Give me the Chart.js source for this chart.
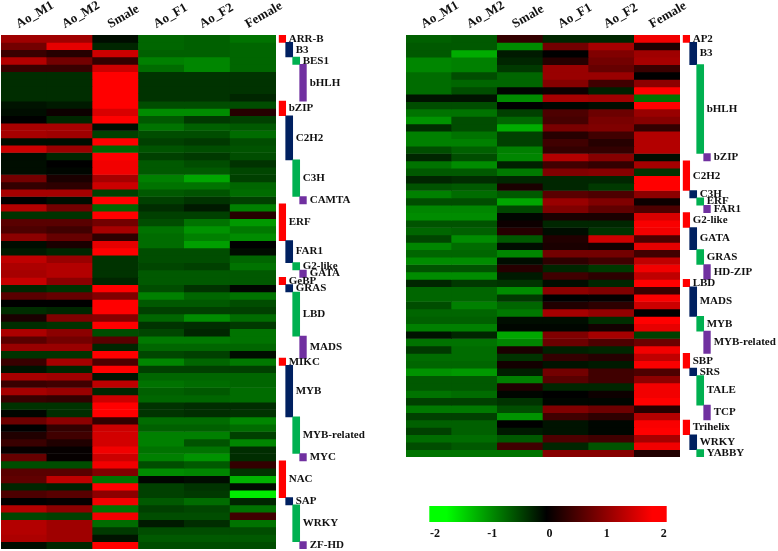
<!DOCTYPE html>
<html>
<head>
<meta charset="utf-8">
<title>Heatmaps</title>
<script src="https://cdn.jsdelivr.net/npm/chart.js@4/dist/chart.umd.min.js"></script>
<style>
    html, body { margin: 0; padding: 0; background: #fff; }
    body { position: relative; width: 778px; height: 551px; overflow: hidden; }
    canvas { position: absolute; }
</style>
</head>
<body>
<canvas id="heatLeft" style="left:1px;top:0"></canvas>
<canvas id="famLeft" style="left:278px;top:0"></canvas>
<canvas id="heatRight" style="left:406px;top:0"></canvas>
<canvas id="famRight" style="left:682px;top:0"></canvas>
<canvas id="colorBar" style="left:420px;top:500px"></canvas>
<script>
// column names
var samples = ['Ao_M1', 'Ao_M2', 'Smale', 'Ao_F1', 'Ao_F2', 'Female'];

// left heatmap, one line per row, same order as samples
var leftRows = [
    [1.25, 1.25, -0.1, -0.8, -0.75, -0.9],
    [0.9, 1.8, -0.3, -0.8, -0.75, -0.8],
    [0.45, 0.3, 1.6, -0.75, -0.75, -0.8],
    [1.4, 0.9, 0.4, -1.0, -1.05, -0.8],
    [0.45, 0.45, 1.6, -0.85, -1.05, -0.8],
    [-0.35, -0.35, 2, -0.4, -0.4, -0.4],
    [-0.35, -0.35, 2, -0.4, -0.4, -0.4],
    [-0.35, -0.35, 2, -0.4, -0.4, -0.4],
    [-0.35, -0.35, 2, -0.4, -0.4, -0.3],
    [-0.15, -0.2, 2, -0.6, -0.6, -0.6],
    [-0.1, 0.1, 1.7, -1.1, -1.1, 0.3],
    [0, -0.3, 2, -0.7, -0.45, -0.5],
    [1.3, 1.3, -0.1, -0.9, -0.75, -0.7],
    [1.3, 1.25, -0.5, -0.6, -0.6, -0.85],
    [-0.1, -0.1, 2, -0.5, -0.45, -0.6],
    [1.6, 1.2, -0.8, -0.65, -0.6, -0.65],
    [-0.1, -0.3, 2, -0.5, -0.45, -0.6],
    [-0.1, 0, 1.9, -0.7, -0.6, -0.4],
    [-0.1, -0.05, 1.9, -0.7, -0.7, -0.55],
    [0.9, 0.2, 1.3, -1.0, -1.3, -0.5],
    [0.4, 0.35, 1.6, -0.9, -0.9, -0.8],
    [1.3, 1.3, -0.5, -0.7, -0.65, -0.85],
    [0, -0.1, 2, -0.5, -0.4, -0.5],
    [1.4, 0.9, -0.8, -0.35, -0.2, -1],
    [-0.4, -0.4, 2, -0.5, -0.5, 0.3],
    [0.7, 0.7, 0.9, -0.6, -0.9, -1.2],
    [0.6, 0.5, 1.3, -0.9, -1.15, -0.95],
    [1.1, 0.8, 0.35, -0.85, -1.0, -1.1],
    [-0.1, 0.2, 1.8, -0.85, -1.25, 0],
    [-0.2, -0.3, 2, -0.6, -0.6, -0.1],
    [1.5, 1.2, -0.4, -0.6, -0.6, -0.8],
    [1.35, 1.4, -0.4, -0.55, -0.5, -0.9],
    [1.3, 1.4, -0.4, -0.7, -0.7, -0.7],
    [1.55, 1.1, -0.3, -0.7, -0.7, -0.7],
    [-0.3, -0.4, 2, -0.6, -0.4, -0.05],
    [0.7, 0.8, 1.0, -1.0, -0.8, -0.9],
    [0, 0, 2, -0.7, -0.7, -0.6],
    [-0.35, -0.3, 2, -0.5, -0.5, -0.5],
    [0.2, 1.0, 1.05, -0.8, -1.1, -0.85],
    [-0.35, -0.4, 2, -0.4, -0.35, -0.45],
    [1.35, 1.1, -0.6, -0.55, -0.3, -0.9],
    [0.7, 0.9, 0.7, -0.95, -0.95, -0.9],
    [1.2, 1.2, -0.3, -0.8, -0.8, -0.8],
    [-0.4, -0.4, 2, -0.55, -0.5, -0.1],
    [0.45, 1.3, 0.6, -1.05, -0.8, -0.95],
    [-0.15, -0.3, 2, -0.5, -0.5, -0.5],
    [1.3, 1.25, -0.15, -0.8, -0.8, -0.8],
    [0.45, 0.5, 1.5, -0.9, -0.85, -0.8],
    [1.3, 1.2, -0.3, -0.75, -0.7, -0.85],
    [0.45, 0.4, 1.6, -0.8, -0.8, -0.85],
    [-0.4, -0.4, 2, -0.4, -0.35, -0.35],
    [-0.05, -0.35, 2, -0.4, -0.35, -0.4],
    [0.85, 1.1, 0.4, -0.85, -0.85, -1.05],
    [0, 0.4, 1.6, -0.75, -0.75, -0.85],
    [0.25, 0.5, 1.65, -1.0, -1.0, -0.5],
    [0.45, 0.25, 1.65, -1.0, -0.65, -1.05],
    [0.05, 0.05, 1.9, -0.9, -0.9, -0.35],
    [0.8, 0.05, 1.6, -1.0, -1.15, -0.35],
    [-0.6, -0.6, 1.9, -0.6, -0.7, 0.4],
    [0.7, 0.7, 1.0, -1.1, -1.05, -0.4],
    [0.75, 1.5, -0.9, -0.05, -0.1, -1.4],
    [-0.3, -0.25, 2, -0.5, -0.4, -0.1],
    [0.6, 0.7, 1.1, -0.5, -0.45, -1.85],
    [0, 0.05, 1.9, -0.7, -0.85, -0.3],
    [1.4, 1.1, -0.9, -0.5, -0.55, -0.9],
    [-0.55, -0.5, 1.9, -0.6, -0.6, 0.5],
    [1.4, 1.25, -0.85, -0.2, -0.35, -0.9],
    [1.4, 1.25, -0.45, -0.6, -0.6, -0.6],
    [1.35, 1.25, -0.15, -0.7, -0.7, -0.7],
    [-0.1, -0.3, 2, -0.6, -0.6, -0.6]
];

// right heatmap
var rightRows = [
    [-0.75, -0.7, 0.4, -0.3, -0.3, 1.9],
    [-0.7, -0.7, -1.1, 0.9, 1.3, 0.25],
    [-0.7, -1.35, -0.2, 0, 1.0, 1.25],
    [-1.05, -1.0, -0.3, 0.3, 0.9, 1.3],
    [-1.05, -1.0, -0.45, 1.2, 0.8, 0.45],
    [-0.85, -0.6, -0.8, 1.2, 1.2, 0],
    [-0.85, -0.8, -0.8, 1.05, 0.5, 1.1],
    [-0.85, -0.6, -0.05, 0.1, -0.25, 2],
    [-0.15, -0.15, -1.1, 1.3, 1.25, -0.9],
    [-0.6, -0.6, 0, -0.05, -0.1, 2],
    [-0.9, -0.9, -0.5, 0.6, 0.85, 1.2],
    [-1.15, -0.6, -0.8, 0.55, 0.95, 1.05],
    [-0.35, -0.6, -1.35, 0.95, 1.0, 0.4],
    [-1.0, -0.9, -0.5, 0.3, 0.5, 1.4],
    [-1.0, -1.0, -0.5, 0.5, 0.3, 1.4],
    [-0.6, -0.75, -1.0, 0.4, 0.4, 1.4],
    [-0.3, -0.6, -1.05, 1.4, 1.05, -0.1],
    [-0.9, -1.1, -0.25, 0.5, 0.4, 1.3],
    [-0.7, -0.7, -0.95, 1.0, 1.05, -0.4],
    [-0.3, -0.35, -0.3, -0.3, -0.3, 2],
    [-0.65, -0.7, 0.2, -0.3, -0.45, 2],
    [-1.0, -0.85, -0.7, 0.7, 0.6, 1.1],
    [-0.6, -0.6, -1.3, 1.2, 1.0, 0.1],
    [-1.05, -1.05, -0.55, 1.0, 0.75, 0.6],
    [-1.1, -1.1, -0.05, 0.2, 0.2, 1.7],
    [-0.65, -0.65, 0.1, -0.3, -0.3, 1.95],
    [-0.8, -0.75, 0.3, -0.1, -0.4, 1.9],
    [-0.55, -1.1, -0.7, 0.25, 1.6, 0.6],
    [-1.05, -0.85, -0.1, 0.2, 0.15, 1.8],
    [-0.8, -0.8, -1.05, 0.9, 0.9, 0.5],
    [-1.1, -1.1, -0.1, 0.35, 0.5, 1.5],
    [-0.65, -0.65, 0.3, -0.3, -0.45, 1.9],
    [-1.1, -1.1, -0.2, 0.5, 0.35, 1.5],
    [-0.3, -0.45, -0.4, -0.1, -0.3, 2],
    [-0.8, -0.8, -1.1, 1.1, 1.0, 0.45],
    [-0.8, -0.8, -0.45, 0, 0.05, 1.95],
    [-0.6, -1.0, -0.8, 0.25, 0.35, 1.6],
    [-0.8, -0.8, -0.95, 1.3, 1.15, 0],
    [-0.75, -0.75, -0.1, -0.1, -0.35, 2],
    [-1.0, -1.0, -0.05, -0.05, 0.15, 1.8],
    [-0.15, -0.3, -1.3, 1.0, 1.3, -0.5],
    [-0.9, -0.9, -1.05, 0.85, 0.6, 0.85],
    [-0.45, -0.85, 0.2, -0.25, -0.3, 1.9],
    [-0.85, -0.85, -0.4, 0.4, 0.3, 1.5],
    [-0.8, -0.8, 0.15, -0.15, -0.2, 1.95],
    [-1.15, -1.2, -0.25, 0.9, 0.5, 0.6],
    [-0.7, -0.7, -1.0, 0.7, 0.5, 1.1],
    [-0.7, -0.7, 0.25, -0.3, -0.3, 1.9],
    [-0.9, -0.85, -0.05, 0, 0.1, 1.9],
    [-0.5, -0.5, -0.4, -0.05, -0.05, 2],
    [-0.95, -0.95, -0.6, 1.0, 0.85, 0.3],
    [-0.5, -0.5, -1.15, 0.5, 0.35, 1.4],
    [-0.75, -0.75, 0, -0.15, -0.05, 1.95],
    [-0.5, -0.75, -0.2, -0.15, -0.05, 2],
    [-0.85, -0.85, -0.7, 0.6, 0.5, 1.3],
    [-0.6, -0.7, 0.5, -0.3, -0.65, 1.9],
    [-0.9, -0.9, -0.9, 1.05, 1.05, 0.25]
];

// gene families beside each heatmap and how many rows each one covers
var leftFamilies = ['ARR-B', 'B3', 'BES1', 'bHLH', 'bZIP', 'C2H2', 'C3H', 'CAMTA', 'ERF', 'FAR1', 'G2-like', 'GATA', 'GeBP', 'GRAS', 'LBD', 'MADS', 'MIKC', 'MYB', 'MYB-related', 'MYC', 'NAC', 'SAP', 'WRKY', 'ZF-HD'];
var leftFamilySizes = [1, 2, 1, 5, 2, 6, 5, 1, 5, 3, 1, 1, 1, 1, 6, 3, 1, 7, 5, 1, 5, 1, 5, 1];
var rightFamilies = ['AP2', 'B3', 'bHLH', 'bZIP', 'C2H2', 'C3H', 'ERF', 'FAR1', 'G2-like', 'GATA', 'GRAS', 'HD-ZIP', 'LBD', 'MADS', 'MYB', 'MYB-related', 'SBP', 'SRS', 'TALE', 'TCP', 'Trihelix', 'WRKY', 'YABBY'];
var rightFamilySizes = [1, 3, 12, 1, 4, 1, 1, 1, 2, 3, 2, 2, 1, 4, 2, 3, 2, 1, 4, 2, 2, 2, 1];

// the strip steps through these four lanes and colours
var lanes = ['a', 'b', 'c', 'd'];
var laneColors = ['#ff0000', '#002060', '#00b050', '#7030a0'];

// colour bar
var colorTicks = [-2, -1, 0, 1, 2];
var colorBarRange = [-2.1, 2.05];

var SERIF = "'Liberation Serif', 'Times New Roman', serif";

//value to green-black-red
function heatColor(v) {
    var c = Math.round(Math.min(Math.abs(v) / 2, 1) * 255);
    return v < 0 ? 'rgb(0,' + c + ',0)' : 'rgb(' + c + ',0,0)';
}

//one floating bar per cell, one dataset per row
function drawHeatmap(id, rows, width, height) {
    var canvas = document.getElementById(id);
    canvas.width = width + 16;
    canvas.height = height;
    var datasets = rows.map(function (row, r) {
        return {
            data: row.map(function () { return [r, r + 1]; }),
            backgroundColor: row.map(heatColor),
            borderWidth: 0,
            barPercentage: 1,
            categoryPercentage: 1
        };
    });
    return new Chart(canvas, {
        type: 'bar',
        data: { labels: samples, datasets: datasets },
        options: {
            responsive: false,
            animation: false,
            events: [],
            layout: { padding: { right: 16 } },
            plugins: { legend: { display: false }, tooltip: { enabled: false } },
            scales: {
                x: {
                    position: 'top',
                    stacked: true,
                    grid: { display: false, drawTicks: false },
                    border: { display: false },
                    afterFit: function (scale) {
                        scale.height = 35;
                        scale.paddingLeft = 0;
                        scale.paddingRight = 0;
                    },
                    ticks: {
                        autoSkip: false,
                        minRotation: 30,
                        maxRotation: 30,
                        padding: 3,
                        labelOffset: 1,
                        color: '#111',
                        font: { family: SERIF, size: 13, weight: 'bold' }
                    }
                },
                y: { display: false, reverse: true, min: 0, max: rows.length }
            }
        }
    });
}

//family strip plus its names
function drawFamilies(id, names, sizes, rowCount, width, height, padLeft) {
    var canvas = document.getElementById(id);
    canvas.width = width;
    canvas.height = height;
    var start = 0;
    var spans = sizes.map(function (size, i) {
        var span = { x: lanes[i % 4], y: [start, start + size] };
        start += size;
        return span;
    });
    var nameLabels = {
        id: 'nameLabels',
        afterDatasetsDraw: function (chart) {
            var ctx = chart.ctx;
            ctx.save();
            ctx.font = 'bold 11px ' + SERIF;
            ctx.fillStyle = '#111';
            ctx.textBaseline = 'middle';
            spans.forEach(function (span, i) {
                var x = chart.scales.x.getPixelForValue(lanes.indexOf(span.x)) + 6.5;
                var y = chart.scales.y.getPixelForValue((span.y[0] + span.y[1]) / 2);
                ctx.fillText(names[i], x, y);
            });
            ctx.restore();
        }
    };
    return new Chart(canvas, {
        type: 'bar',
        data: {
            labels: lanes,
            datasets: [{
                data: spans,
                backgroundColor: sizes.map(function (s, i) { return laneColors[i % 4]; }),
                borderWidth: 0,
                barThickness: 7
            }]
        },
        options: {
            responsive: false,
            animation: false,
            events: [],
            layout: { padding: { top: 35, left: padLeft, right: width - padLeft - 28 } },
            plugins: { legend: { display: false }, tooltip: { enabled: false } },
            scales: {
                x: { display: false },
                y: { display: false, reverse: true, min: 0, max: rowCount }
            }
        },
        plugins: [nameLabels]
    });
}

//colour key: one bar with a gradient along the value scale
function drawColorBar() {
    var canvas = document.getElementById('colorBar');
    canvas.width = 260;
    canvas.height = 44;
    new Chart(canvas, {
        type: 'bar',
        data: {
            labels: ['key'],
            datasets: [{
                data: [colorBarRange],
                borderWidth: 0,
                barPercentage: 1,
                categoryPercentage: 1,
                backgroundColor: function (ctx) {
                    var x = ctx.chart.scales.x;
                    // not laid out yet on the first pass
                    if (!x || !isFinite(x.left) || !isFinite(x.right) || x.right <= x.left) return '#000';
                    var g = ctx.chart.ctx.createLinearGradient(x.left, 0, x.right, 0);
                    var len = x.right - x.left;
                    g.addColorStop((x.getPixelForValue(-1.8) - x.left) / len, '#00ff00');
                    g.addColorStop((x.getPixelForValue(-0.05) - x.left) / len, '#000000');
                    g.addColorStop((x.getPixelForValue(1.8) - x.left) / len, '#ff0000');
                    return g;
                }
            }]
        },
        options: {
            indexAxis: 'y',
            responsive: false,
            animation: false,
            events: [],
            layout: { padding: { left: 9.3, right: 13.3, top: 6 } },
            plugins: { legend: { display: false }, tooltip: { enabled: false } },
            scales: {
                y: { display: false },
                x: {
                    min: colorBarRange[0],
                    max: colorBarRange[1],
                    grid: { display: false, drawTicks: false },
                    border: { display: false },
                    afterFit: function (scale) {
                        scale.height = 22;
                        scale.paddingLeft = 0;
                        scale.paddingRight = 0;
                    },
                    afterBuildTicks: function (scale) {
                        scale.ticks = colorTicks.map(function (v) { return { value: v }; });
                    },
                    ticks: {
                        padding: 5,
                        color: '#111',
                        font: { family: SERIF, size: 12, weight: 'bold' }
                    }
                }
            }
        }
    });
}

drawHeatmap('heatLeft', leftRows, 275, 549);
drawFamilies('famLeft', leftFamilies, leftFamilySizes, leftRows.length, 120, 549, 0.7);
drawHeatmap('heatRight', rightRows, 274, 457);
drawFamilies('famRight', rightFamilies, rightFamilySizes, rightRows.length, 96, 457, 0.7);
drawColorBar();
</script>
</body>
</html>
